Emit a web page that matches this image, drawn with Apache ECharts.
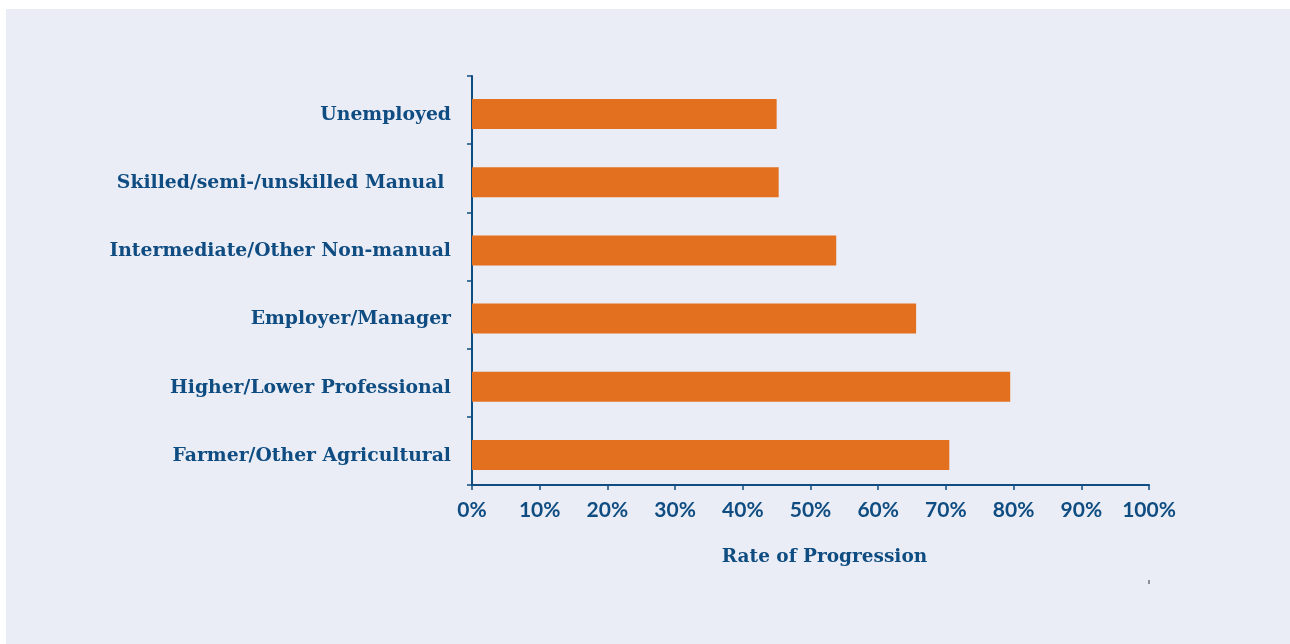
<!DOCTYPE html>
<html><head><meta charset="utf-8">
<script src="https://cdn.jsdelivr.net/npm/echarts@6/dist/echarts.min.js"></script>
<style>
html,body{margin:0;padding:0;background:#ffffff;width:1290px;height:644px;overflow:hidden;}
#c{position:absolute;left:6px;top:9px;width:1284px;height:635px;}
</style></head><body>
<div id="c"></div>
<script>
const categories = ["Unemployed","Skilled/semi-/unskilled Manual ","Intermediate/Other Non-manual","Employer/Manager","Higher/Lower Professional","Farmer/Other Agricultural"];
const rates = [45.0, 45.3, 53.8, 65.6, 79.5, 70.5];
const xTicks = [0,10,20,30,40,50,60,70,80,90,100];
const axisName = "Rate of Progression";

const navy = '#0F4C81';
const chart = echarts.init(document.getElementById('c'), null, {renderer:'canvas'});
chart.setOption({
  backgroundColor:'#EAEDF5',
  animation:false,
  grid:{left:466, right:141, top:67, bottom:159, containLabel:false},
  xAxis:{
    type:'value', min:xTicks[0], max:xTicks[xTicks.length-1], interval:10,
    axisLine:{show:true, lineStyle:{color:navy, width:2}},
    axisTick:{show:true, length:5, lineStyle:{color:navy, width:1.5}},
    splitLine:{show:false},
    axisLabel:{formatter:'{value}%', color:navy, fontFamily:'Lato', fontWeight:'bold', fontSize:21, margin:15},
    name:axisName, nameLocation:'middle', nameGap:63,
    nameTextStyle:{color:navy, fontFamily:'DejaVu Serif', fontWeight:'bold', fontSize:18.5, padding:[0,0,0,28]}
  },
  yAxis:{
    type:'category', data:categories, inverse:true,
    axisLine:{show:true, lineStyle:{color:navy, width:2}},
    axisTick:{show:true, length:5, lineStyle:{color:navy, width:1.5}},
    axisLabel:{
      margin:21,
      formatter: v => '{a|' + v + '}',
      rich:{a:{color:navy, fontFamily:'DejaVu Serif', fontWeight:'bold', fontSize:18.8, padding:[10,0,0,0]}}
    }
  },
  series:[
    {type:'bar', name:'spacer', data:rates.map(()=>'-'), barWidth:8, barGap:'0%', silent:true, itemStyle:{color:'transparent'}},
    {type:'bar', name:'Rate', data:rates, barWidth:30, barGap:'0%', itemStyle:{color:'#E3701E'}}
  ],
  graphic:[{type:'line', shape:{x1:1143,y1:571,x2:1143,y2:575}, style:{stroke:'#333',lineWidth:1}}]
});
</script></body></html>
